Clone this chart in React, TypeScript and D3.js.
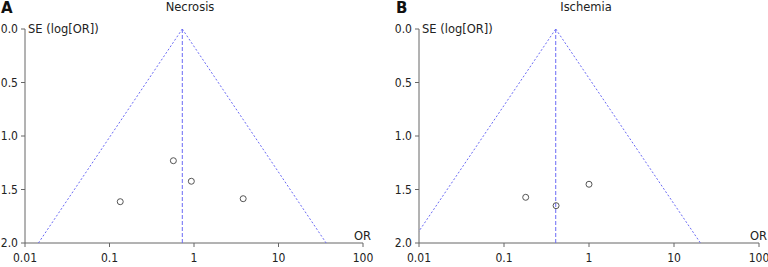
import React from "react";
import * as d3 from "d3";

const panelLabels = ["A", "B"];
const panelTitles = ["Necrosis", "Ischemia"];
const pooledOR = [0.727, 0.406];
const necrosisOR = [0.57, 0.93, 0.134, 3.82];
const necrosisSE = [1.231, 1.423, 1.614, 1.586];
const ischemiaOR = [0.18, 0.41, 1.0];
const ischemiaSE = [1.573, 1.651, 1.451];
const xTicks = [0.01, 0.1, 1, 10, 100];
const xTickLabels = ["0.01", "0.1", "1", "10", "100"];
const yTicks = [0, 0.5, 1, 1.5, 2];
const yTickLabels = ["0.0", "0.5", "1.0", "1.5", "2.0"];

const FONT = "'DejaVu Sans', Verdana, sans-serif";
const TICKFONT = "'DejaVu Sans Condensed', 'DejaVu Sans', sans-serif";
const AXIS = "#666";
const TEXT = "#222";
const BLUE = "#6b6bf5";

type PanelProps = {
  idx: number;
  left: number;
  right: number;
  ors: number[];
  ses: number[];
};

function Panel({ idx, left, right, ors, ses }: PanelProps) {
  const top = 29;
  const bottom = 243;
  const x = d3.scaleLog().domain([0.01, 100]).range([left, right]);
  const y = d3.scaleLinear().domain([0, 2]).range([top, bottom]);
  const pooled = pooledOR[idx];
  const lp = Math.log(pooled);
  const z = 1.96;
  const seMax = 2;
  const line = d3
    .line<[number, number]>()
    .x((d) => x(d[0]))
    .y((d) => y(d[1]));
  const leftPts: [number, number][] = [
    [Math.exp(lp - z * seMax), seMax],
    [pooled, 0],
  ];
  const rightPts: [number, number][] = [
    [pooled, 0],
    [Math.exp(lp + z * seMax), seMax],
  ];
  const clipId = `clip${idx}`;
  const labelX = idx === 0 ? 1 : 396;
  const titleX = idx === 0 ? 190 : 586;
  return (
    <g>
      <defs>
        <clipPath id={clipId}>
          <rect x={left} y={top - 2} width={right - left} height={bottom - top + 2} />
        </clipPath>
      </defs>
      <text x={labelX} y={13} fontFamily={FONT} fontWeight="bold" fontSize={15} fill="#111">
        {panelLabels[idx]}
      </text>
      <text x={titleX} y={11} fontFamily={FONT} fontSize={11.5} fill={TEXT} textAnchor="middle">
        {panelTitles[idx]}
      </text>
      <line x1={left} x2={left} y1={top} y2={bottom} stroke={AXIS} strokeWidth={1} />
      <line x1={left} x2={right} y1={bottom} y2={bottom} stroke={AXIS} strokeWidth={1} />
      {yTicks.map((t, i) => (
        <g key={"y" + i}>
          <line x1={left - 4} x2={left} y1={y(t)} y2={y(t)} stroke={AXIS} />
          <text
            x={left - 7}
            y={y(t)}
            dy="0.36em"
            textAnchor="end"
            fontFamily={TICKFONT}
            fontSize={12}
            fill={TEXT}
          >
            {yTickLabels[i]}
          </text>
        </g>
      ))}
      {xTicks.map((t, i) => (
        <g key={"x" + i}>
          <line x1={x(t)} x2={x(t)} y1={bottom} y2={bottom + 4} stroke={AXIS} />
          <text
            x={x(t)}
            y={262}
            textAnchor="middle"
            fontFamily={TICKFONT}
            fontSize={12}
            fill={TEXT}
          >
            {xTickLabels[i]}
          </text>
        </g>
      ))}
      <text x={left + 3} y={top + 4} fontFamily={FONT} fontSize={11.5} fill={TEXT}>
        SE (log[OR])
      </text>
      <text x={right - 9} y={240} fontFamily={FONT} fontSize={11.5} fill={TEXT}>
        OR
      </text>
      <g clipPath={`url(#${clipId})`}>
        <path d={line(leftPts) || ""} stroke={BLUE} strokeWidth={1} strokeDasharray="2,2" fill="none" />
        <path d={line(rightPts) || ""} stroke={BLUE} strokeWidth={1} strokeDasharray="2,2" fill="none" />
        <line
          x1={x(pooled)}
          x2={x(pooled)}
          y1={y(0)}
          y2={y(2)}
          stroke={BLUE}
          strokeWidth={1}
          strokeDasharray="4,2"
        />
      </g>
      {ors.map((o, i) => (
        <circle key={"p" + i} cx={x(o)} cy={y(ses[i])} r={3} fill="none" stroke="#555" strokeWidth={1} />
      ))}
    </g>
  );
}

export default function App() {
  return (
    <svg
      width={768}
      height={267}
      style={{ position: "absolute", left: 0, top: 0, background: "#fff" }}
    >
      <rect width={768} height={267} fill="#fff" />
      <Panel idx={0} left={25} right={363} ors={necrosisOR} ses={necrosisSE} />
      <Panel idx={1} left={419} right={759} ors={ischemiaOR} ses={ischemiaSE} />
    </svg>
  );
}
